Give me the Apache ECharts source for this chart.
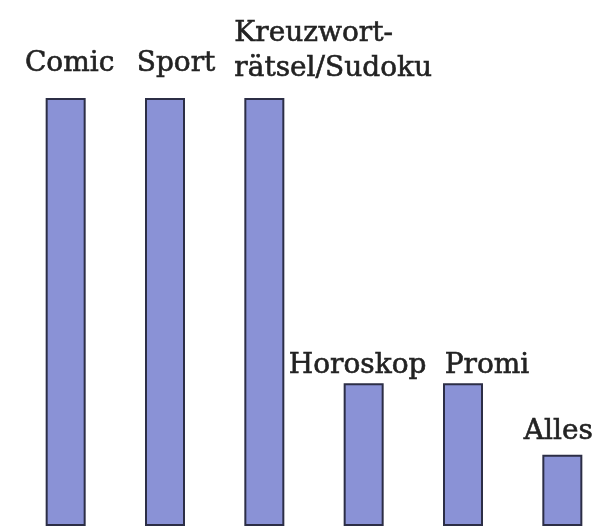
<!DOCTYPE html>
<html>
<head>
<meta charset="utf-8">
<script src="https://cdn.jsdelivr.net/npm/echarts@6/dist/echarts.min.js"></script>
<style>
  html, body { margin: 0; padding: 0; background: #fff; }
  #chart { width: 594px; height: 526px; }
</style>
</head>
<body>
<div id="chart"></div>
<script>
// categories and values
var categories = ['Comic', 'Sport', 'Kreuzwort-\nrätsel/Sudoku', 'Horoskop', 'Promi', 'Alles']
var values = [60, 60, 60, 20, 20, 10]

// label nudges so the texts sit where they do in the original
var labelOffsets = [[4, -17], [11, -17], [-30, -12], [-6, 0], [24, 0], [-4, -5]]
var labelAlign = ['center', 'center', 'left', 'center', 'center', 'center']

var myChart = echarts.init(document.getElementById('chart'))

var seriesData = values.map(function (v, i) {
  return {
    value: v,
    label: { offset: labelOffsets[i], align: labelAlign[i] }
  }
})

myChart.setOption({
  backgroundColor: '#ffffff',
  animation: false,
  // the plot runs a bit past the right edge, so don't clamp it to the canvas
  grid: { left: 16, width: 596, top: 98, bottom: 0, outerBoundsMode: 'none' },
  xAxis: {
    type: 'category',
    data: categories,
    show: false
  },
  yAxis: {
    type: 'value',
    min: 0,
    max: 60,
    show: false
  },
  series: [{
    type: 'bar',
    barWidth: 40,
    data: seriesData,
    itemStyle: {
      color: '#8a92d6',
      borderColor: '#2c2e46',
      borderWidth: 2
    },
    label: {
      show: true,
      position: 'top',
      distance: 0,
      formatter: function (p) { return p.name },
      fontFamily: 'DejaVu Serif',
      fontSize: 28,
      lineHeight: 35,
      color: '#222222',
      // slightly heavier strokes, like the scanned original
      textBorderColor: '#222222',
      textBorderWidth: 0.6,
      verticalAlign: 'bottom'
    }
  }]
})
</script>
</body>
</html>
